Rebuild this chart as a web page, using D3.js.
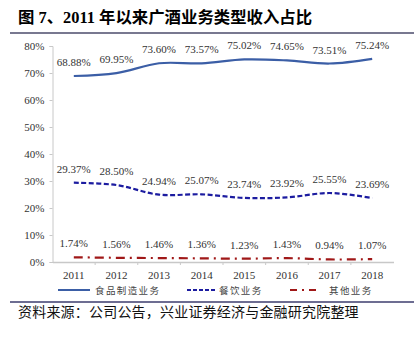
<!DOCTYPE html>
<html><head><meta charset="utf-8">
<script src="https://cdn.jsdelivr.net/npm/d3@7/dist/d3.min.js"></script>
<style>body{margin:0;background:#fff;}svg{display:block;}</style>
</head><body>
<svg id="c" width="414" height="342"></svg>
<script>
const years = ["2011","2012","2013","2014","2015","2016","2017","2018"];
const food = [68.88, 69.95, 73.60, 73.57, 75.02, 74.65, 73.51, 75.24];
const catering = [29.37, 28.50, 24.94, 25.07, 23.74, 23.92, 25.55, 23.69];
const other = [1.74, 1.56, 1.46, 1.36, 1.23, 1.43, 0.94, 1.07];
const yTicks = [0, 10, 20, 30, 40, 50, 60, 70, 80];
const seriesNames = ["食品制造业务", "餐饮业务", "其他业务"];

const svg = d3.select("#c");
const serif = "'Liberation Serif','Times New Roman','Noto Sans CJK SC',serif";
const cjk = "'Liberation Serif','Noto Sans CJK SC',serif";

// title
svg.append("text").attr("x", 18).attr("y", 23).attr("font-family", cjk)
  .attr("font-size", 16.4).attr("font-weight", "bold").attr("fill", "#000")
  .text("图 7、2011 年以来广酒业务类型收入占比");
svg.append("line").attr("x1", 10).attr("x2", 414).attr("y1", 33).attr("y2", 33)
  .attr("stroke", "#4b4b6b").attr("stroke-width", 1.5);

const x = d3.scaleBand().domain(years).range([52.5, 393.5]);
const y = d3.scaleLinear().domain([0, 80]).range([262, 46]);
const cx = d => x(d) + x.bandwidth() / 2;

// y axis
const yAxis = svg.append("g").attr("transform", "translate(52.5,0)")
  .call(d3.axisLeft(y).tickValues(yTicks).tickFormat(d => d + "%").tickSize(3).tickPadding(5));
yAxis.select(".domain").attr("stroke", "#c8c8c8");
yAxis.selectAll(".tick line").attr("stroke", "#c8c8c8");
yAxis.selectAll("text").attr("font-family", serif).attr("font-size", 11).attr("fill", "#333");

// x axis
const xAxis = svg.append("g").attr("transform", "translate(0,262)")
  .call(d3.axisBottom(x).tickSize(0).tickPadding(9));
xAxis.select(".domain").attr("stroke", "#c8c8c8").attr("stroke-width", 1.5);
xAxis.selectAll("text").attr("font-family", serif).attr("font-size", 11).attr("fill", "#333");
xAxis.selectAll(".sep").data(years.slice(1)).enter().append("line")
  .attr("x1", d => x(d)).attr("x2", d => x(d)).attr("y1", 0).attr("y2", 3)
  .attr("stroke", "#c8c8c8");

const line = d3.line().x((d, i) => cx(years[i])).y(d => y(d)).curve(d3.curveCatmullRom.alpha(0.5));

const series = [
  {vals: food, color: "#3b5ea6", dash: null},
  {vals: catering, color: "#1c1ca0", dash: "5,2.5"},
  {vals: other, color: "#a01818", dash: "9,5,2,5"}
];
series.forEach(s => {
  svg.append("path").attr("d", line(s.vals)).attr("fill", "none")
    .attr("stroke", s.color).attr("stroke-width", 2.2)
    .attr("stroke-dasharray", s.dash);
  svg.selectAll(null).data(s.vals).enter().append("text")
    .attr("x", (d, i) => cx(years[i])).attr("y", d => y(d) - 10)
    .attr("text-anchor", "middle").attr("font-family", serif).attr("font-size", 11)
    .attr("fill", "#333").text(d => d.toFixed(2) + "%");
});

// legend
const leg = [
  {x1: 58, x2: 90, tx: 95, s: series[0]},
  {x1: 187, x2: 216, tx: 219, s: series[1]},
  {x1: 290, x2: 318, tx: 329, s: series[2]}
];
leg.forEach((l, i) => {
  svg.append("line").attr("x1", l.x1).attr("x2", l.x2).attr("y1", 290).attr("y2", 290)
    .attr("stroke", l.s.color).attr("stroke-width", 2).attr("stroke-dasharray", l.s.dash ? (i === 1 ? "4,2" : "7,5,2,5") : null);
  svg.append("text").attr("x", l.tx).attr("y", 294).attr("font-family", cjk)
    .attr("font-size", 9.5).attr("letter-spacing", 1.4).attr("fill", "#444").text(seriesNames[i]);
});

svg.append("line").attr("x1", 10).attr("x2", 414).attr("y1", 302).attr("y2", 302)
  .attr("stroke", "#3c3c6e").attr("stroke-width", 1.5);
svg.append("text").attr("x", 18).attr("y", 317).attr("font-family", cjk)
  .attr("font-size", 14).attr("letter-spacing", 0.2).attr("fill", "#111")
  .text("资料来源：公司公告，兴业证券经济与金融研究院整理");
</script>
</body></html>
